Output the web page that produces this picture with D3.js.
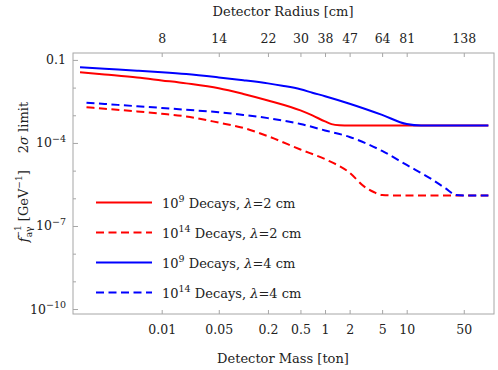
<!DOCTYPE html>
<html>
<head>
<meta charset="utf-8">
<script src="https://cdn.jsdelivr.net/npm/d3@7"></script>
<style>
body{margin:0;background:#fff}
svg{display:block;font-family:"DejaVu Serif",serif}
</style>
</head>
<body>
<svg id="chart" width="498" height="370"></svg>
<script>
// bottom / top axis: mass ticks and the matching detector radius labels
const massTicks = [0.01,0.05,0.2,0.5,1,2,5,10,50]
const massTickLabels = ['0.01','0.05','0.2','0.5','1','2','5','10','50']
const radiusTickLabels = ['8','14','22','30','38','47','64','81','138']
const limitMajorTicks = [1e-1,1e-4,1e-7,1e-10]
const limitMinorTicks = [1e-2,1e-3,1e-5,1e-6,1e-8,1e-9]

// 10^9 decays, lambda = 2 cm
const redSolidMass = [0.001,0.002,0.005,0.01,0.02,0.05,0.1,0.2,0.5,0.7,1,1.2,1.5,2,5,10,20,50,100]
const redSolidLimit = [3.59e-2,2.99e-2,2.33e-2,1.82e-2,1.42e-2,9.48e-3,5.90e-3,3.44e-3,1.50e-3,9.86e-4,5.98e-4,4.79e-4,4.33e-4,4.23e-4,4.23e-4,4.23e-4,4.23e-4,4.23e-4,4.23e-4]
// 10^14 decays, lambda = 2 cm
const redDashMass = [0.0012,0.002,0.005,0.01,0.02,0.05,0.1,0.2,0.5,1,2,3,4,5,7,10,20,50,100]
const redDashLimit = [1.95e-3,1.72e-3,1.38e-3,1.14e-3,9.08e-4,5.42e-4,3.49e-4,1.75e-4,5.80e-5,2.60e-5,8.40e-6,2.70e-6,1.65e-6,1.32e-6,1.27e-6,1.27e-6,1.27e-6,1.27e-6,1.27e-6]
// 10^9 decays, lambda = 4 cm
const blueSolidMass = [0.001,0.002,0.005,0.01,0.02,0.05,0.1,0.2,0.3,0.5,0.7,1,2,5,10,15,20,50,100]
const blueSolidLimit = [5.45e-2,4.81e-2,4.10e-2,3.59e-2,3.07e-2,2.33e-2,1.85e-2,1.42e-2,1.17e-2,8.73e-3,6.53e-3,4.88e-3,2.61e-3,1.03e-3,4.8e-4,4.23e-4,4.23e-4,4.23e-4,4.23e-4]
// 10^14 decays, lambda = 4 cm
const blueDashMass = [0.0012,0.002,0.005,0.01,0.02,0.05,0.1,0.2,0.5,1,2,5,10,20,30,40,50,100]
const blueDashLimit = [2.86e-3,2.57e-3,2.12e-3,1.84e-3,1.58e-3,1.29e-3,1.03e-3,7.89e-4,4.86e-4,2.83e-4,1.65e-4,5.14e-5,1.60e-5,5.00e-6,2.27e-6,1.32e-6,1.27e-6,1.27e-6]

const seriesExp = ['9','14','9','14']
const seriesLambda = ['2','2','4','4']
const seriesColor = ['#ff0000','#ff0000','#0000ff','#0000ff']
const seriesDashed = [false,true,false,true]

const series = [
  {mass:redSolidMass,limit:redSolidLimit},
  {mass:redDashMass,limit:redDashLimit},
  {mass:blueSolidMass,limit:blueSolidLimit},
  {mass:blueDashMass,limit:blueDashLimit}
].map((s,i)=>({
  pts:s.mass.map((m,j)=>({m,v:s.limit[j]})),
  color:seriesColor[i],dashed:seriesDashed[i],exp:seriesExp[i],lambda:seriesLambda[i]
}))

const svg = d3.select('#chart')
const fr = {l:73,r:494,t:53,b:314}
const x = d3.scaleLog().domain([10**-3.086,10**2.069]).range([fr.l,fr.r])
const y = d3.scaleLog().domain([10**-0.75,10**-10.18]).range([fr.t,fr.b])
const frameColor = '#a6a6a6'
const textColor = '#222'
const font = '"DejaVu Serif",serif'
const dash = '8,4.5'

function styleAxis(g,size) {
  g.attr('font-family',font).attr('font-size',size)
  g.select('.domain').remove()
  g.selectAll('line').attr('stroke',frameColor)
  g.selectAll('text').attr('fill',textColor)
}

svg.append('g').attr('transform',`translate(0,${fr.b})`)
  .call(d3.axisBottom(x).tickValues(massTicks).tickSizeInner(-4).tickSizeOuter(0).tickPadding(11.5)
    .tickFormat((d,i)=>massTickLabels[i]))
  .call(g=>styleAxis(g,12.5))

svg.append('g').attr('transform',`translate(0,${fr.t})`)
  .call(d3.axisTop(x).tickValues(massTicks).tickSizeInner(-4).tickSizeOuter(0).tickPadding(10)
    .tickFormat((d,i)=>radiusTickLabels[i]))
  .call(g=>styleAxis(g,12.5))

svg.append('g').attr('transform',`translate(${fr.l},0)`)
  .call(d3.axisLeft(y).tickValues(limitMinorTicks).tickSizeInner(-3).tickSizeOuter(0).tickFormat(''))
  .call(g=>styleAxis(g,12.5))

svg.append('g').attr('transform',`translate(${fr.l},0)`)
  .call(d3.axisLeft(y).tickValues(limitMajorTicks).tickSizeInner(-5).tickSizeOuter(0).tickPadding(7).tickFormat(''))
  .call(g=>styleAxis(g,12.5))
  .call(g=>g.selectAll('.tick text').each(function(d){
    const t = d3.select(this)
    const e = Math.round(Math.log10(d))
    if (e===-1) { t.text('0.1'); return }
    t.append('tspan').text('10')
    t.append('tspan').attr('font-size',9.5).attr('dy','-0.6em').text('\u2212'+(-e))
  }))

svg.append('rect').attr('x',fr.l).attr('y',fr.t).attr('width',fr.r-fr.l).attr('height',fr.b-fr.t)
  .attr('fill','none').attr('stroke',frameColor)

const line = d3.line().x(d=>x(d.m)).y(d=>y(d.v)).curve(d3.curveMonotoneX)
svg.append('g').selectAll('path').data(series).join('path')
  .attr('d',d=>line(d.pts)).attr('fill','none')
  .attr('stroke',d=>d.color).attr('stroke-width',2)
  .attr('stroke-dasharray',d=>d.dashed?dash:null)

// axis titles
svg.append('text').attr('x',283).attr('y',16).attr('text-anchor','middle')
  .attr('font-size',13).attr('fill',textColor).text('Detector Radius [cm]')
svg.append('text').attr('x',283).attr('y',363).attr('text-anchor','middle')
  .attr('font-size',13).attr('fill',textColor).text('Detector Mass [ton]')

const yl = svg.append('text').attr('transform','translate(28,172) rotate(-90)')
  .attr('text-anchor','middle').attr('font-size',13).attr('fill',textColor)
yl.append('tspan').attr('font-style','italic').text('f')
yl.append('tspan').attr('font-size',9).attr('dy',4).text('a\u03b3')
yl.append('tspan').attr('font-size',9).attr('dx',-12).attr('dy',-11).text('\u22121')
yl.append('tspan').attr('dy',7).text(' [GeV')
yl.append('tspan').attr('font-size',9).attr('dy',-6).text('\u22121')
yl.append('tspan').attr('dy',6).text(']\u2003 2')
yl.append('tspan').attr('font-style','italic').text('\u03c3')
yl.append('tspan').text(' limit')

// legend
const leg = svg.append('g').selectAll('g').data(series).join('g')
  .attr('transform',(d,i)=>`translate(96,${202.5+i*30})`)
leg.append('line').attr('x1',0).attr('x2',56)
  .attr('stroke',d=>d.color).attr('stroke-width',2)
  .attr('stroke-dasharray',d=>d.dashed?dash:null)
const lt = leg.append('text').attr('x',66).attr('y',5).attr('font-size',13).attr('fill',textColor)
lt.append('tspan').text('10')
lt.append('tspan').attr('font-size',9.5).attr('dy',-6).text(d=>d.exp)
lt.append('tspan').attr('dy',6).text(' Decays, ')
lt.append('tspan').attr('font-style','italic').text('\u03bb')
lt.append('tspan').text(d=>'='+d.lambda+' cm')
</script>
</body>
</html>
